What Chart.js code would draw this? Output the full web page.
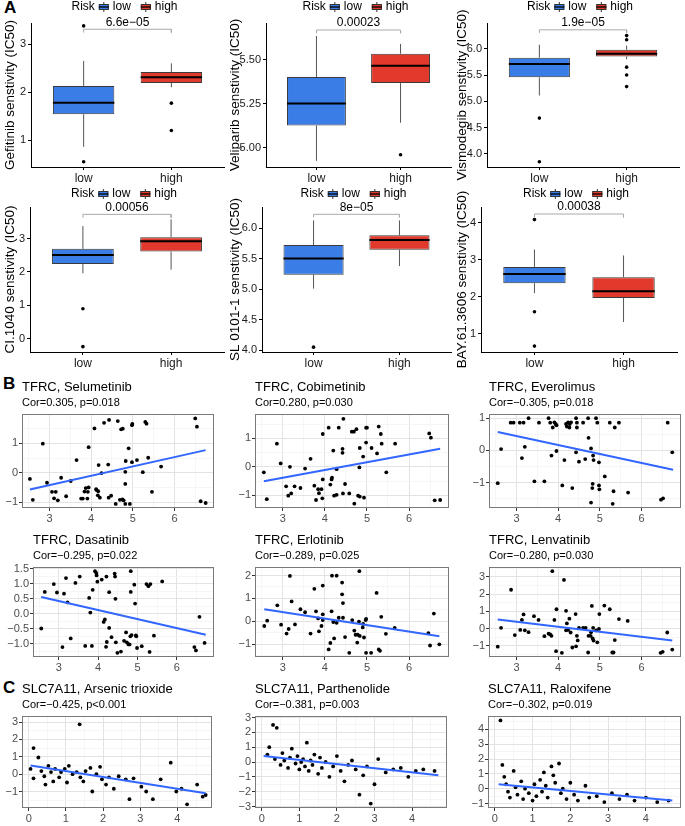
<!DOCTYPE html>
<html>
<head>
<meta charset="utf-8">
<script src="https://cdn.jsdelivr.net/npm/chart.js@4.4.0/dist/chart.umd.min.js"></script>
<style>
  body { margin: 0; background: #fff; }
  #fig { position: relative; width: 685px; height: 826px; overflow: hidden; background: #fff; }
  .tag { position: absolute; font: bold 17px "Liberation Sans", Arial, sans-serif; color: #000; }
</style>
</head>
<body>
<div id="fig">
  <div class="tag" style="left:4px;top:-2px">A</div>
  <div class="tag" style="left:3px;top:374px">B</div>
  <div class="tag" style="left:3px;top:678px">C</div>
</div>
<script>
const FONT = '"Liberation Sans", Arial, Helvetica, sans-serif';
Chart.defaults.font.family = FONT;
Chart.defaults.animation = false;
Chart.defaults.responsive = false;
Chart.defaults.events = [];
Chart.defaults.plugins.legend.display = false;
Chart.defaults.plugins.tooltip.enabled = false;

const BLUE = '#3b7de6';
const RED = '#e2392d';
const MINUS = '\u2212';

// ---------- panel A: drug sensitivity by risk group ----------
const riskGroups = ['low', 'high'];

// [lower whisker, Q1, median, Q3, upper whisker]
const gefitinibLow = [0.86, 1.54, 1.78, 2.13, 2.65];
const gefitinibHigh = [2.10, 2.19, 2.31, 2.42, 2.60];
const gefitinibOutLow = [3.38, 0.55];
const gefitinibOutHigh = [1.77, 1.20];

const veliparibLow = [4.925, 5.126, 5.252, 5.402, 5.636];
const veliparibHigh = [5.142, 5.368, 5.467, 5.535, 5.591];
const veliparibOutLow = [];
const veliparibOutHigh = [4.96];

const vismodegibLow = [5.11, 5.456, 5.71, 5.83, 6.076];
const vismodegibHigh = [5.80, 5.854, 5.905, 5.98, 6.06];
const vismodegibOutLow = [4.68, 3.85];
const vismodegibOutHigh = [6.25, 6.17, 5.65, 5.50, 5.28];

const ci1040Low = [1.96, 2.24, 2.51, 2.69, 3.37];
const ci1040High = [2.07, 2.61, 2.92, 3.04, 3.57];
const ci1040OutLow = [0.90, -0.23];
const ci1040OutHigh = [];

const sl0101Low = [5.01, 5.24, 5.505, 5.725, 6.13];
const sl0101High = [5.38, 5.65, 5.81, 5.885, 6.13];
const sl0101OutLow = [4.05];
const sl0101OutHigh = [];

const bay613606Low = [2.10, 2.37, 2.62, 2.81, 3.28];
const bay613606High = [1.32, 1.97, 2.15, 2.53, 3.12];
const bay613606OutLow = [4.09, 1.60, 0.67];
const bay613606OutHigh = [];

const pValues = ['6.6e' + MINUS + '05', '0.00023', '1.9e' + MINUS + '05', '0.00056', '8e' + MINUS + '05', '0.00038'];

// ---------- panel B: TFRC vs drug sensitivity ----------
const selumetinibPts = [[2.53,-0.21],[2.60,-0.92],[2.84,0.99],[2.94,-0.34],[3.06,-0.65],[3.15,-0.65],[3.11,-0.87],[3.20,-0.94],[3.28,-0.17],[3.40,-0.80],[3.51,-0.28],[3.65,0.43],[3.76,-0.88],[3.80,-0.88],[3.84,-0.64],[3.87,-0.52],[3.91,-0.88],[3.92,-0.65],[3.94,0.87],[3.94,-0.50],[4.08,1.51],[4.12,-0.56],[4.13,-0.59],[4.16,-0.77],[4.17,-0.63],[4.18,0.26],[4.21,-0.85],[4.25,-0.01],[4.31,1.70],[4.41,0.28],[4.42,-0.85],[4.43,1.80],[4.48,-0.78],[4.59,-1.06],[4.64,1.76],[4.69,-0.92],[4.72,1.48],[4.76,1.50],[4.75,-0.91],[4.78,-0.94],[4.82,-0.38],[4.82,0.03],[4.83,0.40],[4.82,-1.06],[4.90,0.83],[4.93,-1.06],[4.98,1.62],[4.99,1.66],[4.98,0.36],[5.10,0.43],[5.24,0.02],[5.30,1.73],[5.33,1.67],[5.37,0.51],[5.46,-0.65],[5.68,0.21],[6.50,1.85],[6.54,1.57],[6.63,-0.97],[6.75,-1.03]];
const selumetinibFit = [[2.53,-0.57],[6.75,0.77]];

const cobimetinibPts = [[2.55,-0.19],[2.62,-1.13],[2.86,0.81],[2.95,0.12],[3.08,-0.68],[3.13,-1.01],[3.17,0.00],[3.20,-0.93],[3.28,-0.68],[3.42,-0.74],[3.53,-0.06],[3.66,0.28],[3.75,-0.66],[3.79,-1.16],[3.84,-0.78],[3.86,-0.92],[3.92,-0.78],[3.94,-1.10],[3.95,1.15],[3.95,-0.44],[4.09,1.37],[4.13,-0.62],[4.16,-0.44],[4.17,-0.38],[4.20,0.57],[4.22,-1.01],[4.28,-0.98],[4.28,-0.08],[4.33,1.37],[4.42,0.63],[4.42,0.49],[4.43,-0.93],[4.44,1.68],[4.48,-0.60],[4.58,-0.93],[4.64,1.23],[4.69,1.23],[4.70,-1.29],[4.75,1.32],[4.79,-1.01],[4.82,-0.02],[4.83,-1.04],[4.83,0.66],[4.91,0.36],[4.93,-1.08],[4.98,0.85],[4.98,1.37],[5.00,1.37],[5.11,0.66],[5.24,0.47],[5.28,1.41],[5.33,1.15],[5.35,0.81],[5.46,-0.19],[5.67,0.81],[6.48,1.17],[6.52,1.02],[6.61,-1.17],[6.74,-1.16]];
const cobimetinibFit = [[2.55,-0.50],[6.74,0.63]];

const everolimusPts = [[2.55,-1.02],[2.63,0.04],[2.86,0.86],[2.93,0.86],[3.08,0.86],[3.17,0.86],[3.13,-0.24],[3.20,0.11],[3.29,1.00],[3.43,-0.96],[3.54,0.86],[3.67,-0.96],[3.77,1.00],[3.81,0.86],[3.84,-0.16],[3.87,0.71],[3.91,0.87],[3.94,0.82],[3.96,-0.02],[3.96,0.78],[4.10,-1.09],[4.15,-0.30],[4.19,0.82],[4.21,0.74],[4.24,0.87],[4.27,0.71],[4.28,0.82],[4.31,0.87],[4.34,-1.17],[4.43,1.00],[4.43,-0.06],[4.45,0.86],[4.45,0.71],[4.50,-0.35],[4.60,0.86],[4.65,-0.27],[4.72,1.00],[4.73,0.39],[4.79,0.06],[4.83,-1.04],[4.82,-1.17],[4.79,-1.62],[4.84,-0.16],[4.85,-0.30],[4.91,1.00],[4.94,0.86],[4.98,-0.37],[4.98,-1.09],[4.99,-1.21],[5.12,-0.81],[5.24,0.86],[5.31,-1.66],[5.33,-1.27],[5.36,0.71],[5.46,0.86],[5.68,-1.31],[6.47,-1.53],[6.52,-1.49],[6.63,0.86],[6.74,-0.06]];
const everolimusFit = [[2.55,0.57],[6.76,-0.60]];

const dasatinibPts = [[2.55,-0.49],[2.64,0.73],[2.87,0.99],[2.95,0.71],[3.09,-1.11],[3.13,0.67],[3.18,1.19],[3.22,0.38],[3.30,-0.82],[3.42,1.03],[3.53,1.24],[3.67,-1.07],[3.77,0.53],[3.80,0.04],[3.84,-1.07],[3.86,0.80],[3.92,1.42],[3.95,1.36],[3.96,1.28],[3.98,1.07],[4.09,1.14],[4.14,-0.27],[4.17,-0.19],[4.20,-1.10],[4.22,-0.94],[4.21,1.24],[4.28,0.72],[4.28,-0.47],[4.34,-0.78],[4.42,1.34],[4.43,1.24],[4.44,0.50],[4.45,-0.95],[4.49,-1.30],[4.58,-1.26],[4.66,-0.90],[4.71,-0.62],[4.73,-0.95],[4.77,-1.02],[4.80,-1.02],[4.83,1.42],[4.82,-0.75],[4.83,0.73],[4.85,-0.71],[4.92,0.97],[4.94,0.34],[4.96,-0.72],[4.97,-0.75],[4.99,-1.14],[5.11,-1.08],[5.23,0.99],[5.28,0.92],[5.31,-1.27],[5.33,0.99],[5.42,-0.73],[5.63,1.08],[6.45,-1.11],[6.49,-1.22],[6.58,-0.10],[6.71,-0.97]];
const dasatinibFit = [[2.55,0.56],[6.74,-0.70]];

const erlotinibPts = [[2.56,-0.20],[2.63,0.03],[2.87,0.70],[2.96,-0.14],[3.09,-0.53],[3.14,-0.33],[3.17,1.98],[3.21,0.87],[3.29,-0.13],[3.42,0.53],[3.53,0.40],[3.66,-0.53],[3.75,1.42],[3.79,0.44],[3.84,0.13],[3.86,-0.43],[3.92,-0.20],[3.95,1.56],[3.95,0.31],[3.95,0.06],[4.09,-1.22],[4.13,-0.94],[4.16,0.44],[4.17,1.99],[4.20,-0.03],[4.22,-0.74],[4.28,1.99],[4.28,-0.06],[4.33,0.16],[4.41,1.69],[4.41,1.18],[4.43,0.80],[4.43,0.16],[4.48,-0.68],[4.58,-1.37],[4.65,0.06],[4.70,-0.40],[4.73,-0.58],[4.78,-0.58],[4.77,-0.92],[4.81,-0.01],[4.82,2.19],[4.83,-0.63],[4.90,-0.26],[4.91,-0.11],[4.93,-0.70],[4.97,0.06],[4.98,0.11],[4.98,-1.37],[5.10,-1.37],[5.23,1.24],[5.28,-1.22],[5.31,-1.28],[5.34,0.20],[5.45,-0.54],[5.66,-0.28],[6.46,-0.51],[6.50,-1.05],[6.59,0.34],[6.72,-1.00]];
const erlotinibFit = [[2.56,0.53],[6.72,-0.65]];

const lenvatinibPts = [[2.55,-1.05],[2.63,0.04],[2.87,2.25],[2.96,-0.38],[3.09,-0.08],[3.13,0.50],[3.17,0.82],[3.20,-0.10],[3.29,-0.21],[3.42,0.72],[3.53,0.50],[3.67,-0.44],[3.77,-0.30],[3.81,-0.34],[3.84,-0.42],[3.86,3.33],[3.91,0.50],[3.95,-1.31],[3.96,1.12],[4.09,-1.41],[4.14,2.82],[4.19,1.03],[4.19,-0.10],[4.21,0.30],[4.24,-0.08],[4.27,0.57],[4.30,-0.23],[4.34,-1.10],[4.42,0.84],[4.43,-1.03],[4.45,-0.42],[4.47,-0.69],[4.50,0.04],[4.60,0.04],[4.66,0.04],[4.72,-1.39],[4.73,-0.42],[4.78,-0.42],[4.79,-0.21],[4.81,1.31],[4.83,-0.57],[4.84,0.04],[4.85,-0.70],[4.91,-0.11],[4.94,-0.80],[4.98,-0.02],[4.99,0.84],[5.11,1.33],[5.24,1.12],[5.30,-1.39],[5.33,-1.39],[5.36,-0.67],[5.46,0.55],[5.67,0.44],[6.46,-1.41],[6.51,-1.35],[6.62,-0.23],[6.74,-1.22]];
const lenvatinibFit = [[2.55,0.53],[6.74,-0.69]];

// ---------- panel C: SLC7A11 vs drug sensitivity ----------
const arsenicPts = [[0.13,1.50],[0.26,0.96],[0.05,0.30],[0.34,0.18],[0.13,-0.24],[0.42,-0.12],[0.53,0.48],[0.60,0.12],[0.71,0.30],[0.45,-0.60],[0.66,-0.42],[0.82,-0.18],[0.87,0.12],[0.97,0.30],[1.08,0.48],[1.03,-0.48],[1.18,0.00],[1.29,0.12],[1.37,2.87],[1.39,-0.18],[1.47,-0.42],[1.53,0.18],[1.66,0.36],[1.71,-1.00],[1.82,0.00],[1.92,0.42],[1.97,-0.30],[2.08,-0.60],[2.16,-0.18],[2.29,-0.84],[2.42,-0.12],[2.61,-0.30],[2.71,-1.44],[2.82,-0.24],[3.03,-0.72],[3.16,-1.00],[3.34,-1.44],[3.55,-0.30],[3.82,0.66],[3.97,-1.00],[4.11,-0.84],[4.26,-1.74],[4.53,-0.60],[4.68,-1.30],[4.76,-1.20]];
const arsenicFit = [[0.05,0.50],[4.76,-1.10]];

const parthenolidePts = [[0.15,0.5],[0.2,1.0],[0.3,2.5],[0.4,2.3],[0.35,0.2],[0.5,-0.2],[0.55,0.6],[0.6,0.1],[0.7,-0.4],[0.75,0.3],[0.8,0.9],[0.9,-0.1],[0.95,0.4],[1.0,-0.5],[1.05,0.0],[1.1,0.2],[1.15,-0.3],[1.2,1.3],[1.25,-0.6],[1.3,0.1],[1.35,-0.2],[1.4,0.5],[1.5,-0.8],[1.55,0.3],[1.6,-0.4],[1.7,0.0],[1.8,-1.0],[1.9,-0.3],[2.0,0.4],[2.1,-0.6],[2.2,-1.3],[2.3,-0.2],[2.4,0.1],[2.5,-0.5],[2.6,-2.2],[2.7,-0.9],[2.8,-0.3],[2.9,-2.8],[3.0,-1.5],[3.1,0.2],[3.3,-0.7],[3.5,-0.5],[3.7,-0.4],[3.9,-1.0],[4.1,-0.6],[4.3,-0.5],[4.6,-0.6]];
const parthenolideFit = [[0.05,0.40],[4.70,-0.90]];

const raloxifenePts = [[0.15,4.6],[0.2,1.6],[0.25,0.8],[0.3,0.3],[0.35,-0.2],[0.4,-0.6],[0.5,1.2],[0.55,0.1],[0.6,-0.4],[0.7,0.5],[0.75,-0.7],[0.8,0.0],[0.9,-0.3],[1.0,-0.8],[1.05,0.3],[1.1,-0.5],[1.2,0.6],[1.25,-0.2],[1.3,1.1],[1.35,0.2],[1.4,-0.6],[1.5,1.5],[1.55,0.9],[1.6,0.4],[1.7,1.7],[1.75,-0.3],[1.8,0.0],[1.9,-0.7],[2.0,0.4],[2.1,-0.4],[2.2,-0.8],[2.4,0.2],[2.5,-0.6],[2.7,-0.5],[2.9,-0.9],[3.1,-0.3],[3.3,-0.7],[3.5,-0.4],[3.7,-0.8],[4.0,-0.6],[4.3,-0.9],[4.6,-0.8]];
const raloxifeneFit = [[0.10,0.30],[4.70,-0.80]];

// ---------- helpers ----------
const num = (v, d) => (v < 0 ? MINUS : '') + Math.abs(v).toFixed(d);

function makeCanvas(x, y, w, h) {
  const c = document.createElement('canvas');
  c.width = w; c.height = h;
  c.style.cssText = `position:absolute;left:${x}px;top:${y}px;width:${w}px;height:${h}px`;
  document.getElementById('fig').appendChild(c);
  return c;
}

function drawKey(ctx, x, y, color) {
  ctx.strokeStyle = '#333'; ctx.lineWidth = 1;
  ctx.beginPath(); ctx.moveTo(x + 5, y - 5); ctx.lineTo(x + 5, y + 5); ctx.stroke();
  ctx.fillStyle = color; ctx.fillRect(x, y - 3, 10, 6);
  ctx.strokeRect(x + 0.5, y - 2.5, 9, 5);
  ctx.strokeStyle = '#000'; ctx.lineWidth = 1.3;
  ctx.beginPath(); ctx.moveTo(x, y); ctx.lineTo(x + 10, y); ctx.stroke();
}

const boxDecor = {
  id: 'boxDecor',
  afterDraw(chart, args, o) {
    const {ctx, chartArea: a, scales} = chart;
    ctx.save();
    ctx.font = '12px ' + FONT;
    ctx.fillStyle = '#000';
    ctx.textBaseline = 'bottom';
    ctx.textAlign = 'center';
    ctx.fillText(o.p, scales.x.getPixelForValue(1.5), scales.y.getPixelForValue(o.bracketTop) - 1);
    // legend: Risk [key] low [key] high
    const wR = ctx.measureText('Risk').width, wL = ctx.measureText('low').width, wH = ctx.measureText('high').width;
    const total = wR + 4 + 10 + 4 + wL + 10 + 10 + 4 + wH;
    let x = (a.left + a.right) / 2 - 3 - total / 2;
    const y = o.legendY;
    ctx.textAlign = 'left'; ctx.textBaseline = 'middle';
    ctx.fillText('Risk', x, y); x += wR + 4;
    drawKey(ctx, x, y, BLUE); x += 14;
    ctx.fillStyle = '#000'; ctx.fillText('low', x, y); x += wL + 10;
    drawKey(ctx, x, y, RED); x += 14;
    ctx.fillStyle = '#000'; ctx.fillText('high', x, y);
    ctx.restore();
  }
};

function boxPanel(p) {
  const [rx, ry, rw, rh] = p.rect;
  const [al, at, ar, ab] = p.area;
  const hw = 0.35;
  const medians = [], whiskers = [], boxes = [], outliers = [];
  [p.low, p.high].forEach((g, i) => {
    const x = i + 1;
    medians.push({x: x - hw, y: g[2]}, {x: x + hw, y: g[2]}, {x: x, y: null});
    whiskers.push({x, y: g[0]}, {x, y: g[1]}, {x, y: null}, {x, y: g[3]}, {x, y: g[4]}, {x, y: null});
    boxes.push({x, y: [g[1], g[3]]});
  });
  p.outLow.forEach(v => outliers.push({x: 1, y: v}));
  p.outHigh.forEach(v => outliers.push({x: 2, y: v}));
  const bracket = [{x: 1, y: p.bracket[0]}, {x: 1, y: p.bracket[1]}, {x: 2, y: p.bracket[1]}, {x: 2, y: p.bracket[0]}];

  new Chart(makeCanvas(rx, ry, rw, rh), {
    type: 'bar',
    data: {
      datasets: [
        {type: 'line', order: 0, data: medians, borderColor: '#000', borderWidth: 2, pointRadius: 0, spanGaps: false},
        {type: 'scatter', order: 1, data: outliers, pointRadius: 1.8, backgroundColor: '#000', borderWidth: 0},
        {type: 'bar', order: 2, data: boxes, backgroundColor: [BLUE, RED], borderColor: '#3a3a3a', borderWidth: 1,
         borderSkipped: false, barPercentage: 0.7, categoryPercentage: 1},
        {type: 'line', order: 3, data: whiskers, borderColor: '#555', borderWidth: 1, pointRadius: 0, spanGaps: false},
        {type: 'line', order: 4, data: bracket, borderColor: '#aaa', borderWidth: 1, pointRadius: 0}
      ]
    },
    options: {
      layout: {padding: {left: 0, top: at - ry, right: rx + rw - ar, bottom: 0}},
      plugins: {boxDecor: {p: p.p, bracketTop: p.bracket[1], legendY: p.legendY}},
      scales: {
        x: {
          type: 'linear', min: 0.4, max: 2.6, offset: false, bounds: 'data',
          afterBuildTicks: s => { s.ticks = [{value: 1}, {value: 2}]; },
          afterFit: s => { s.height = ry + rh - ab; },
          ticks: {callback: (v, i) => riskGroups[i], color: '#1a1a1a', font: {size: 12}, padding: 1, autoSkip: false, maxRotation: 0},
          grid: {offset: false, drawOnChartArea: false, tickLength: 3, tickColor: '#000'},
          border: {display: true, color: '#000', width: 1}
        },
        y: {
          type: 'linear', min: p.range[0], max: p.range[1], beginAtZero: false, bounds: 'data',
          afterBuildTicks: s => { s.ticks = p.ticks.map(v => ({value: v})); },
          afterFit: s => { s.width = al - rx; },
          ticks: {callback: (v, i, t) => num(t[i].value, p.dec), color: '#1a1a1a', font: {size: 11}, padding: 2, autoSkip: false},
          grid: {drawOnChartArea: false, tickLength: 3, tickColor: '#000'},
          border: {display: true, color: '#000', width: 1},
          title: {display: true, text: p.title, color: '#000', font: {size: 13.5}, padding: {top: 2, bottom: 0}}
        }
      }
    },
    plugins: [boxDecor]
  });
}

const scatterDecor = {
  id: 'scatterDecor',
  afterDraw(chart, args, o) {
    const {ctx, chartArea: a} = chart;
    ctx.save();
    ctx.fillStyle = '#000';
    ctx.textAlign = 'left'; ctx.textBaseline = 'middle';
    ctx.font = '13px ' + FONT;
    ctx.fillText(o.title, a.left, a.top - 27);
    ctx.font = '11px ' + FONT;
    ctx.fillText(o.sub, a.left, a.top - 11);
    ctx.strokeStyle = '#7a7a7a'; ctx.lineWidth = 1;
    ctx.strokeRect(Math.round(a.left) + 0.5, Math.round(a.top) + 0.5, Math.round(a.right - a.left) - 1, Math.round(a.bottom - a.top) - 1);
    ctx.restore();
  }
};

function withMinor(majors, min, max) {
  const step = majors[1] - majors[0];
  const out = [];
  for (let v = majors[0] - step / 2; v <= majors[majors.length - 1] + step / 2 + 1e-9; v += step / 2) {
    if (v >= min && v <= max) out.push({value: +v.toFixed(4), major: majors.some(m => Math.abs(m - v) < 1e-6)});
  }
  return out;
}

function scatterAxis(range, majors, dec, fit) {
  return {
    type: 'linear', min: range[0], max: range[1], bounds: 'data',
    afterBuildTicks: s => { s.ticks = withMinor(majors, range[0], range[1]); },
    afterFit: fit,
    ticks: {callback: (v, i, t) => t[i].major ? num(t[i].value, dec) : '', color: '#4d4d4d', font: {size: 11}, padding: 1, autoSkip: false, maxRotation: 0},
    grid: {
      color: c => c.tick && c.tick.major ? '#e3e3e3' : '#f2f2f2',
      lineWidth: c => c.tick && c.tick.major ? 1 : 0.7,
      tickColor: c => c.tick && c.tick.major ? '#333' : 'rgba(0,0,0,0)',
      tickLength: 3
    },
    border: {display: false}
  };
}

function scatterPanel(p) {
  const [rx, ry, rw, rh] = p.rect;
  const [al, at, ar, ab] = p.area;
  new Chart(makeCanvas(rx, ry, rw, rh), {
    type: 'scatter',
    data: {
      datasets: [
        {type: 'line', order: 0, data: p.fit.map(([x, y]) => ({x, y})), borderColor: '#3366ff', borderWidth: 2, pointRadius: 0},
        {order: 1, data: p.pts.map(([x, y]) => ({x, y})), pointRadius: 1.9, backgroundColor: '#000', borderWidth: 0}
      ]
    },
    options: {
      layout: {padding: {left: 0, top: at - ry, right: rx + rw - ar, bottom: 0}},
      plugins: {scatterDecor: {title: p.title, sub: p.sub}},
      scales: {
        x: scatterAxis(p.xRange, p.xTicks, 0, s => { s.height = ry + rh - ab; }),
        y: scatterAxis(p.yRange, p.yTicks, p.yDec || 0, s => { s.width = al - rx; })
      }
    },
    plugins: [scatterDecor]
  });
}

// ---------- panel A ----------
const rowA1 = {y: 0, h: 187, top: 23, bottom: 167};
const rowA2 = {y: 187, h: 185, top: 207, bottom: 352};

boxPanel({rect: [0, rowA1.y, 228, rowA1.h], area: [31, rowA1.top, 229, rowA1.bottom], legendY: 7,
  low: gefitinibLow, high: gefitinibHigh, outLow: gefitinibOutLow, outHigh: gefitinibOutHigh,
  range: [0.44, 3.44], ticks: [1, 2, 3], dec: 0, bracket: [3.24, 3.31], p: pValues[0],
  title: 'Gefitinib senstivity (IC50)'});
boxPanel({rect: [225, rowA1.y, 230, rowA1.h], area: [266, rowA1.top, 451, rowA1.bottom], legendY: 7,
  low: veliparibLow, high: veliparibHigh, outLow: veliparibOutLow, outHigh: veliparibOutHigh,
  range: [4.89, 5.71], ticks: [5.0, 5.25, 5.5], dec: 2, bracket: [5.652, 5.67], p: pValues[1],
  title: 'Veliparib senstivity (IC50)'});
boxPanel({rect: [452, rowA1.y, 233, rowA1.h], area: [487, rowA1.top, 679, rowA1.bottom], legendY: 7,
  low: vismodegibLow, high: vismodegibHigh, outLow: vismodegibOutLow, outHigh: vismodegibOutHigh,
  range: [3.75, 6.49], ticks: [4.0, 4.5, 5.0, 5.5, 6.0], dec: 1, bracket: [6.30, 6.36], p: pValues[2],
  title: 'Vismodegib senstivity (IC50)'});

boxPanel({rect: [0, rowA2.y, 228, rowA2.h], area: [30, rowA2.top, 227, rowA2.bottom], legendY: 7,
  low: ci1040Low, high: ci1040High, outLow: ci1040OutLow, outHigh: ci1040OutHigh,
  range: [-0.39, 3.94], ticks: [0, 1, 2, 3], dec: 0, bracket: [3.62, 3.72], p: pValues[3],
  title: 'CI.1040 senstivity (IC50)'});
boxPanel({rect: [225, rowA2.y, 230, rowA2.h], area: [262, rowA2.top, 452, rowA2.bottom], legendY: 7,
  low: sl0101Low, high: sl0101High, outLow: sl0101OutLow, outHigh: sl0101OutHigh,
  range: [3.97, 6.35], ticks: [4.0, 4.5, 5.0, 5.5, 6.0], dec: 1, bracket: [6.18, 6.23], p: pValues[4],
  title: 'SL 0101-1 senstivity (IC50)'});
boxPanel({rect: [452, rowA2.y, 233, rowA2.h], area: [481, rowA2.top, 677, rowA2.bottom], legendY: 7,
  low: bay613606Low, high: bay613606High, outLow: bay613606OutLow, outHigh: bay613606OutHigh,
  range: [0.51, 4.43], ticks: [1, 2, 3, 4], dec: 0, bracket: [4.15, 4.24], p: pValues[5],
  title: 'BAY.61.3606 senstivity (IC50)'});

// ---------- panel B ----------
const tfrcRange = [2.34, 6.95];
const tfrcTicks = [3, 4, 5, 6];
const rowB1 = {y: 372, h: 155, top: 414, bottom: 508};
const rowB2 = {y: 527, h: 150, top: 567, bottom: 657};

scatterPanel({rect: [0, rowB1.y, 230, rowB1.h], area: [22, rowB1.top, 214, rowB1.bottom],
  title: 'TFRC, Selumetinib', sub: 'Cor=0.305, p=0.018', pts: selumetinibPts, fit: selumetinibFit,
  xRange: tfrcRange, xTicks: tfrcTicks, yRange: [-1.2, 2.0], yTicks: [-1, 0, 1]});
scatterPanel({rect: [230, rowB1.y, 230, rowB1.h], area: [255, rowB1.top, 449, rowB1.bottom],
  title: 'TFRC, Cobimetinib', sub: 'Cor=0.280, p=0.030', pts: cobimetinibPts, fit: cobimetinibFit,
  xRange: tfrcRange, xTicks: tfrcTicks, yRange: [-1.44, 1.85], yTicks: [-1, 0, 1]});
scatterPanel({rect: [460, rowB1.y, 225, rowB1.h], area: [489, rowB1.top, 684, rowB1.bottom],
  title: 'TFRC, Everolimus', sub: 'Cor=' + MINUS + '0.305, p=0.018', pts: everolimusPts, fit: everolimusFit,
  xRange: tfrcRange, xTicks: tfrcTicks, yRange: [-1.79, 1.13], yTicks: [-1, 0, 1]});

scatterPanel({rect: [0, rowB2.y, 230, rowB2.h], area: [33, rowB2.top, 214, rowB2.bottom],
  title: 'TFRC, Dasatinib', sub: 'Cor=' + MINUS + '0.295, p=0.022', pts: dasatinibPts, fit: dasatinibFit,
  xRange: tfrcRange, xTicks: tfrcTicks, yRange: [-1.44, 1.56], yTicks: [-1, -0.5, 0, 0.5, 1, 1.5], yDec: 1});
scatterPanel({rect: [230, rowB2.y, 230, rowB2.h], area: [255, rowB2.top, 449, rowB2.bottom],
  title: 'TFRC, Erlotinib', sub: 'Cor=' + MINUS + '0.289, p=0.025', pts: erlotinibPts, fit: erlotinibFit,
  xRange: tfrcRange, xTicks: tfrcTicks, yRange: [-1.55, 2.37], yTicks: [-1, 0, 1, 2]});
scatterPanel({rect: [460, rowB2.y, 225, rowB2.h], area: [489, rowB2.top, 684, rowB2.bottom],
  title: 'TFRC, Lenvatinib', sub: 'Cor=' + MINUS + '0.280, p=0.030', pts: lenvatinibPts, fit: lenvatinibFit,
  xRange: tfrcRange, xTicks: tfrcTicks, yRange: [-1.65, 3.57], yTicks: [-1, 0, 1, 2, 3]});

// ---------- panel C ----------
const slcRange = [-0.18, 4.93];
const slcTicks = [0, 1, 2, 3, 4];
const rowC = {y: 677, h: 149, top: 716, bottom: 808};

scatterPanel({rect: [0, rowC.y, 230, rowC.h], area: [22, rowC.top, 212, rowC.bottom],
  title: 'SLC7A11, Arsenic trioxide', sub: 'Cor=' + MINUS + '0.425, p<0.001', pts: arsenicPts, fit: arsenicFit,
  xRange: slcRange, xTicks: slcTicks, yRange: [-1.95, 3.35], yTicks: [-1, 0, 1, 2, 3]});
scatterPanel({rect: [230, rowC.y, 230, rowC.h], area: [255, rowC.top, 447, rowC.bottom],
  title: 'SLC7A11, Parthenolide', sub: 'Cor=' + MINUS + '0.381, p=0.003', pts: parthenolidePts, fit: parthenolideFit,
  xRange: slcRange, xTicks: slcTicks, yRange: [-3.1, 3.1], yTicks: [-3, -2, -1, 0, 1, 2, 3]});
scatterPanel({rect: [460, rowC.y, 225, rowC.h], area: [488, rowC.top, 683, rowC.bottom],
  title: 'SLC7A11, Raloxifene', sub: 'Cor=' + MINUS + '0.302, p=0.019', pts: raloxifenePts, fit: raloxifeneFit,
  xRange: slcRange, xTicks: slcTicks, yRange: [-1.3, 4.9], yTicks: [-1, 0, 1, 2, 3, 4]});
</script>
</body>
</html>
